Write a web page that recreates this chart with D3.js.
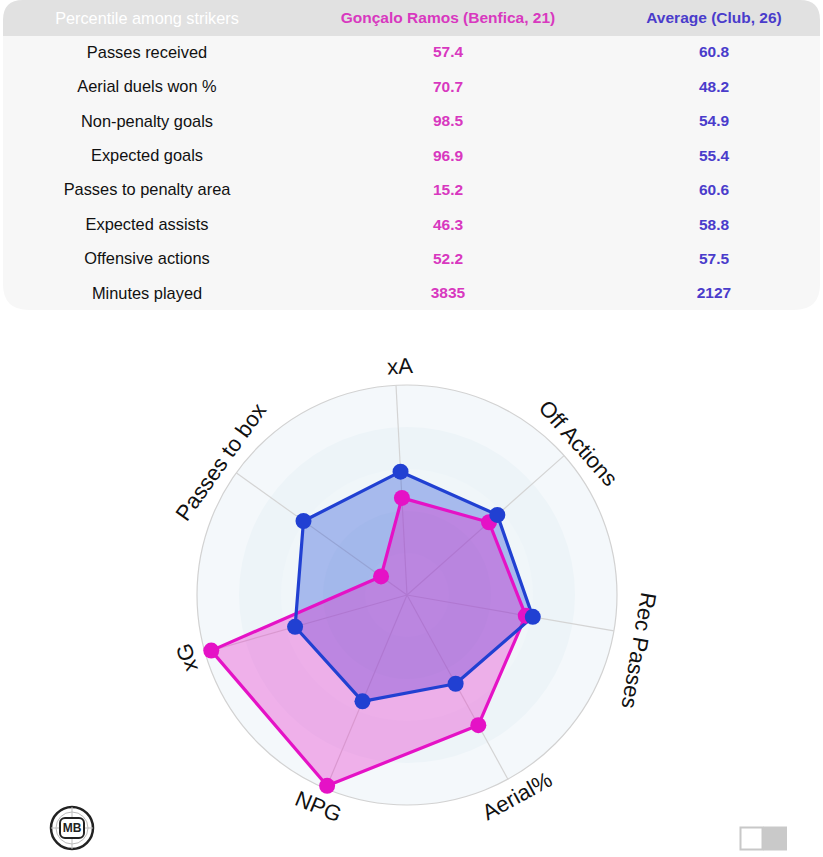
<!DOCTYPE html>
<html>
<head>
<meta charset="utf-8">
<script src="https://cdn.jsdelivr.net/npm/d3@7"></script>
<style>
html,body{margin:0;padding:0;background:#fff;}
svg{display:block;font-family:"Liberation Sans",Arial,sans-serif;}
</style>
</head>
<body>
<svg id="chart" width="823" height="857"></svg>
<script>
// ---- data ----
const tableHeader = ["Percentile among strikers", "Gonçalo Ramos (Benfica, 21)", "Average (Club, 26)"];
const tableRows = ["Passes received", "Aerial duels won %", "Non-penalty goals", "Expected goals", "Passes to penalty area", "Expected assists", "Offensive actions", "Minutes played"];
const playerVals = ["57.4", "70.7", "98.5", "96.9", "15.2", "46.3", "52.2", "3835"];
const avgVals = ["60.8", "48.2", "54.9", "55.4", "60.6", "58.8", "57.5", "2127"];

const axes = ["xA", "Off Actions", "Rec Passes", "Aerial%", "NPG", "xG", "Passes to box"];
const playerRadar = [46.3, 52.2, 57.4, 70.7, 98.5, 96.9, 15.2];
const avgRadar = [58.8, 57.5, 60.8, 48.2, 54.9, 55.4, 60.6];

// ---- styles ----
const pinkText = "#d838bf", blueText = "#4a3ccb";
const pinkLine = "#e512c6", blueLine = "#2140d2";

const svg = d3.select("#chart");

// ---- table ----
const tbl = svg.append("g");
const tx = 3, tw = 817, th = 310, hh = 36;
tbl.append("path")
  .attr("d", `M${tx},${hh} L${tx+tw},${hh} L${tx+tw},${th-26} Q${tx+tw},${th} ${tx+tw-26},${th} L${tx+26},${th} Q${tx},${th} ${tx},${th-26} Z`)
  .attr("fill", "#f7f7f7");
tbl.append("path")
  .attr("d", `M${tx},${hh} L${tx},20 Q${tx},0 ${tx+20},0 L${tx+tw-20},0 Q${tx+tw},0 ${tx+tw},20 L${tx+tw},${hh} Z`)
  .attr("fill", "#e1e1e1");

const colX = [147, 448, 714];
tbl.append("text").attr("x", colX[0]).attr("y", 18).attr("dy", "0.35em")
  .attr("text-anchor", "middle").attr("font-size", 16.3).attr("fill", "#ffffff").text(tableHeader[0]);
tbl.append("text").attr("x", colX[1]).attr("y", 18).attr("dy", "0.35em")
  .attr("text-anchor", "middle").attr("font-size", 15.5).attr("font-weight", "bold").attr("fill", pinkText).text(tableHeader[1]);
tbl.append("text").attr("x", colX[2]).attr("y", 18).attr("dy", "0.35em")
  .attr("text-anchor", "middle").attr("font-size", 15.5).attr("font-weight", "bold").attr("fill", blueText).text(tableHeader[2]);

const rowY = d3.scalePoint().domain(d3.range(tableRows.length)).range([52, 293]);
tableRows.forEach((r, i) => {
  const y = rowY(i);
  tbl.append("text").attr("x", colX[0]).attr("y", y).attr("dy", "0.35em")
    .attr("text-anchor", "middle").attr("font-size", 16.4).attr("fill", "#111").text(r);
  tbl.append("text").attr("x", colX[1]).attr("y", y).attr("dy", "0.35em")
    .attr("text-anchor", "middle").attr("font-size", 15.5).attr("font-weight", "bold").attr("fill", pinkText).text(playerVals[i]);
  tbl.append("text").attr("x", colX[2]).attr("y", y).attr("dy", "0.35em")
    .attr("text-anchor", "middle").attr("font-size", 15.5).attr("font-weight", "bold").attr("fill", blueText).text(avgVals[i]);
});

// ---- radar ----
const cx = 407, cy = 595, R = 210;
const rScale = d3.scaleLinear().domain([0, 100]).range([0, R]);
const n = axes.length;
const startDeg = -3.0;
const angDeg = i => startDeg + i * 360 / n;
const ang = i => angDeg(i) * Math.PI / 180;

const rg = svg.append("g").attr("transform", `translate(${cx},${cy})`);

// bands
const bands = [100, 80, 60, 40, 20];
const bandCols = ["#f4f8fb", "#edf4f8", "#f0f6f9", "#eaf2f6", "#eef5f8"];
bands.forEach((b, i) => {
  rg.append("circle").attr("r", rScale(b)).attr("fill", bandCols[i]);
});
rg.append("circle").attr("r", R).attr("fill", "none").attr("stroke", "#d2d2d2").attr("stroke-width", 1.2);

// spokes
axes.forEach((a, i) => {
  rg.append("line").attr("x1", 0).attr("y1", 0)
    .attr("x2", R * Math.sin(ang(i))).attr("y2", -R * Math.cos(ang(i)))
    .attr("stroke", "#d4d4d4").attr("stroke-width", 1.2);
});

const radial = d3.lineRadial().angle((d, i) => ang(i)).radius(d => rScale(d)).curve(d3.curveLinearClosed);

// fills first
rg.append("path").attr("d", radial(avgRadar)).attr("fill", "rgba(40,80,215,0.36)");
rg.append("path").attr("d", radial(playerRadar)).attr("fill", "rgba(232,30,200,0.33)");
// lines
rg.append("path").attr("d", radial(playerRadar)).attr("fill", "none").attr("stroke", pinkLine).attr("stroke-width", 3.2).attr("stroke-linejoin", "round");
rg.append("path").attr("d", radial(avgRadar)).attr("fill", "none").attr("stroke", blueLine).attr("stroke-width", 3.2).attr("stroke-linejoin", "round");

function dots(vals, col) {
  rg.selectAll(null).data(vals).enter().append("circle")
    .attr("cx", (d, i) => rScale(d) * Math.sin(ang(i)))
    .attr("cy", (d, i) => -rScale(d) * Math.cos(ang(i)))
    .attr("r", 8).attr("fill", col);
}
dots(playerRadar, pinkLine);
dots(avgRadar, blueLine);

// labels
const labR = 229;
const labShift = {"Rec Passes": [15, -9], "xA": [5, 0]};
axes.forEach((a, i) => {
  const d = angDeg(i);
  const x = labR * Math.sin(ang(i)), y = -labR * Math.cos(ang(i));
  const flip = Math.cos(ang(i)) < -0.6;
  const rot = flip ? d - 180 : d;
  const s = labShift[a] || [0, 0];
  rg.append("text").attr("transform", `translate(${x},${y}) rotate(${rot})`)
    .attr("x", s[0]).attr("y", s[1])
    .attr("text-anchor", "middle").attr("dy", "0.35em")
    .attr("font-size", 22).attr("fill", "#111").text(a);
});

// ---- logo ----
const lg = svg.append("g").attr("transform", "translate(72,828)");
lg.append("circle").attr("r", 21).attr("fill", "#fff").attr("stroke", "#222").attr("stroke-width", 2.5);
lg.append("circle").attr("r", 16).attr("fill", "none").attr("stroke", "#bbb").attr("stroke-width", 1);
lg.append("line").attr("x1", 0).attr("y1", -21).attr("x2", 0).attr("y2", 21).attr("stroke", "#bbb");
lg.append("line").attr("x1", -21).attr("y1", 0).attr("x2", 21).attr("y2", 0).attr("stroke", "#bbb");
lg.append("rect").attr("x", -12).attr("y", -10).attr("width", 24).attr("height", 20).attr("rx", 5)
  .attr("fill", "#fff").attr("stroke", "#222").attr("stroke-width", 2);
lg.append("text").attr("text-anchor", "middle").attr("dy", "0.36em").attr("font-size", 12).attr("font-weight", "bold")
  .attr("fill", "#222").text("MB");

// ---- toggle ----
svg.append("rect").attr("x", 740.5).attr("y", 827.5).attr("width", 22).attr("height", 22).attr("fill", "#fff").attr("stroke", "#c8c8c8").attr("stroke-width", 2);
svg.append("rect").attr("x", 763).attr("y", 826.5).attr("width", 24).attr("height", 24).attr("fill", "#c9c9c9");
</script>
</body>
</html>
